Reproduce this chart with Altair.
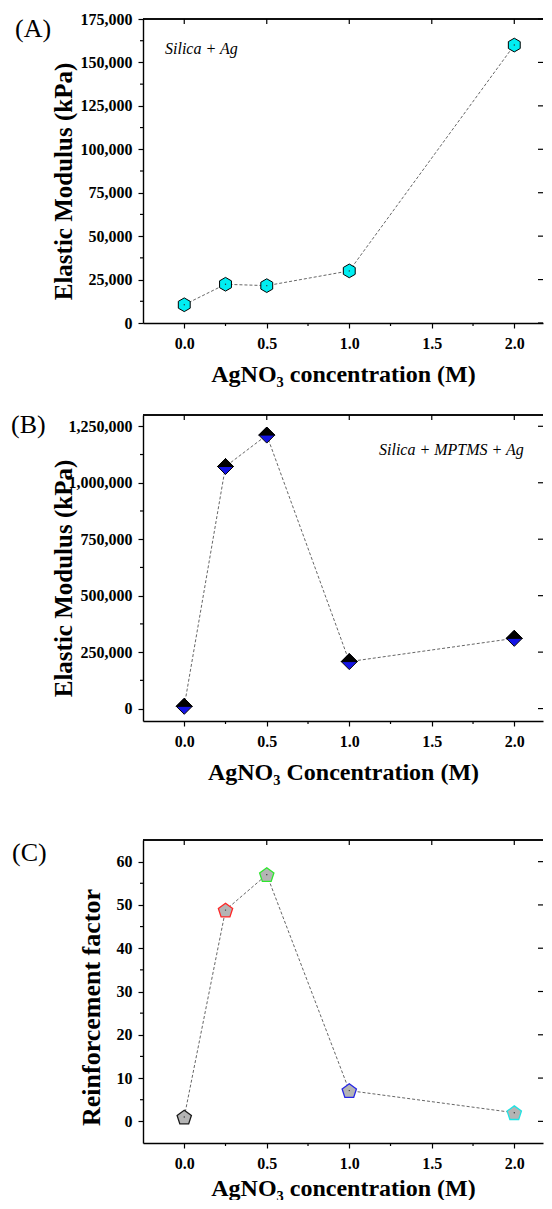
import altair as alt
import pandas as pd

# ---------------- data ----------------
conc = [0.0, 0.25, 0.5, 1.0, 2.0]
modulus_a = [10500, 22300, 21500, 30000, 160000]
modulus_b = [10000, 1072000, 1211000, 208000, 311000]
reinforcement = [1.0, 48.8, 57.0, 7.1, 2.0]
c_strokes = ["#1a1a1a", "#ff2626", "#2ee62e", "#2626e6", "#1fe3e3"]

x_major = [0.0, 0.5, 1.0, 1.5, 2.0]
x_minor = [0.25, 0.75, 1.25, 1.75]
a_major = [0, 25000, 50000, 75000, 100000, 125000, 150000, 175000]
a_minor = [12500, 37500, 62500, 87500, 112500, 137500, 162500]
b_major = [0, 250000, 500000, 750000, 1000000, 1250000]
b_minor = [125000, 375000, 625000, 875000, 1125000]
c_major = [0, 10, 20, 30, 40, 50, 60]
c_minor = [5, 15, 25, 35, 45, 55]

SERIF = "Liberation Serif"
W = 400
X_DOM = [-0.25, 2.174]

HEX = "M0,-1L0.866,-0.5L0.866,0.5L0,1L-0.866,0.5L-0.866,-0.5Z"
DIAMOND = "M0,-1L1,0L0,1L-1,0Z"
DIAMOND_TOP = "M-1,0L0,-1L1,0Z"
PENT = "M0,-0.905L0.951,-0.214L0.588,0.905L-0.588,0.905L-0.951,-0.214Z"


def panel(df, H, y_dom, y_major, y_minor, y_fmt, y_title, title_x, title_y,
          y_title_size, x_title, x_title_y, label, label_x, label_y,
          note, note_x, note_y, b_top, b_bottom, markers):
    xs = alt.Scale(domain=X_DOM, nice=False, zero=False)
    ys = alt.Scale(domain=y_dom, nice=False, zero=False)
    xa = alt.Axis(values=x_major, format=".1f", title=x_title,
                  titleY=x_title_y, titleBaseline="alphabetic", titleFontSize=24,
                  labelPadding=7, tickSize=5)
    ya = alt.Axis(values=y_major, format=y_fmt, title=y_title,
                  titleX=title_x, titleY=title_y, titleAngle=270,
                  titleAlign="center", titleBaseline="alphabetic",
                  titleFontSize=y_title_size, labelPadding=6, tickSize=5)
    X = lambda: alt.X("x:Q", scale=xs, axis=xa)
    Y = lambda: alt.Y("y:Q", scale=ys, axis=ya)

    line = alt.Chart(df).mark_line(
        color="#555555", strokeWidth=0.9, strokeDash=[3, 2]
    ).encode(x=X(), y=Y())

    top_line = alt.Chart(pd.DataFrame({"x": [X_DOM[0], X_DOM[1]]})).mark_rule(
        color="black", strokeWidth=1.4
    ).encode(x=alt.value(0), x2=alt.value(W), y=alt.value(0))
    top_ticks = alt.Chart(pd.DataFrame({"x": x_major})).mark_rule(
        color="black", strokeWidth=1.2
    ).encode(x=X(), y=alt.value(0), y2=alt.value(5))
    bottom_minor = alt.Chart(pd.DataFrame({"x": x_minor})).mark_rule(
        color="black", strokeWidth=1.2
    ).encode(x=X(), y=alt.value(H), y2=alt.value(H + 3))
    right_ticks = alt.Chart(pd.DataFrame({"y": y_major})).mark_rule(
        color="black", strokeWidth=1.2
    ).encode(y=Y(), x=alt.value(W - 5), x2=alt.value(W))
    left_minor = alt.Chart(pd.DataFrame({"y": y_minor})).mark_rule(
        color="black", strokeWidth=1.2
    ).encode(y=Y(), x=alt.value(-3), x2=alt.value(0))

    bounds = alt.Chart(pd.DataFrame({"k": [0]})).mark_rule(
        opacity=0
    ).encode(x=alt.value(-135), x2=alt.value(0),
             y=alt.value(-b_top), y2=alt.value(H + b_bottom))

    lab = alt.Chart(pd.DataFrame({"t": [label]})).mark_text(
        font=SERIF, fontSize=26, align="left", baseline="alphabetic", color="black"
    ).encode(x=alt.value(label_x), y=alt.value(label_y), text="t:N")

    layers = [bounds, line, top_line, top_ticks, bottom_minor, right_ticks, left_minor, lab]
    if note:
        nt = alt.Chart(pd.DataFrame({"t": [note]})).mark_text(
            font=SERIF, fontSize=16, fontStyle="italic", align="left",
            baseline="alphabetic", color="black"
        ).encode(x=alt.value(note_x), y=alt.value(note_y), text="t:N")
        layers.append(nt)

    for m in markers:
        layers.append(m(df, X, Y))

    return alt.layer(*layers).properties(width=W, height=H)


def hex_markers(df, X, Y):
    return alt.Chart(df).mark_point(
        shape=HEX, size=188, fill="#00eef2", stroke="black", strokeWidth=1,
        opacity=1, fillOpacity=1, strokeOpacity=1
    ).encode(x=X(), y=Y())


def dots(df, X, Y):
    return alt.Chart(df).mark_point(
        shape="circle", size=2, filled=True, color="#333333", opacity=1
    ).encode(x=X(), y=Y())


def diamond_bottom(df, X, Y):
    return alt.Chart(df).mark_point(
        shape=DIAMOND, size=256, fill="#1414e6", stroke="black", strokeWidth=1,
        opacity=1, fillOpacity=1, strokeOpacity=1
    ).encode(x=X(), y=Y())


def diamond_top(df, X, Y):
    return alt.Chart(df).mark_point(
        shape=DIAMOND_TOP, size=256, fill="black", stroke="black", strokeWidth=1,
        opacity=1, fillOpacity=1, strokeOpacity=1
    ).encode(x=X(), y=Y())


def pent_markers(df, X, Y):
    return alt.Chart(df).mark_point(
        shape=PENT, size=226, fill="#b4b4b4", strokeWidth=1.3,
        opacity=1, fillOpacity=1, strokeOpacity=1
    ).encode(x=X(), y=Y(), stroke=alt.Stroke("c:N", scale=None))


df_a = pd.DataFrame({"x": conc, "y": modulus_a})
df_b = pd.DataFrame({"x": conc, "y": modulus_b})
df_c = pd.DataFrame({"x": conc, "y": reinforcement, "c": c_strokes})

pa = panel(df_a, 304, [0, 175000], a_major, a_minor, ",d",
           "Elastic Modulus (kPa)", -72, 162, 25,
           "AgNO\u2083 concentration (M)", 58, "(A)", -128, 18,
           "Silica + Ag", 22, 35, 11, 72, [hex_markers, dots])
pb = panel(df_b, 306, [-55000, 1300000], b_major, b_minor, ",d",
           "Elastic Modulus (kPa)", -72, 163, 25,
           "AgNO\u2083 Concentration (M)", 58, "(B)", -132, 18,
           "Silica + MPTMS + Ag", 236, 40, 20, 72, [diamond_bottom, diamond_top])
pc = panel(df_c, 303, [-5, 65], c_major, c_minor, "d",
           "Reinforcement factor", -44, 167, 26,
           "AgNO\u2083 concentration (M)", 52, "(C)", -131, 21,
           "", 0, 0, 47, 57, [pent_markers, dots])

chart = alt.vconcat(pa, pb, pc, spacing=0).properties(
    padding=0, background="white"
).configure_view(
    stroke="transparent", strokeWidth=0
).configure_axis(
    labelFont=SERIF, labelFontSize=16, labelFontWeight="bold", labelColor="black",
    titleFont=SERIF, titleFontWeight="bold", titleColor="black",
    tickColor="black", tickWidth=1.2, domain=True, domainColor="black",
    domainWidth=1.4, grid=False
)

chart.save("out.html", embed_options={"renderer": "svg", "actions": False})
